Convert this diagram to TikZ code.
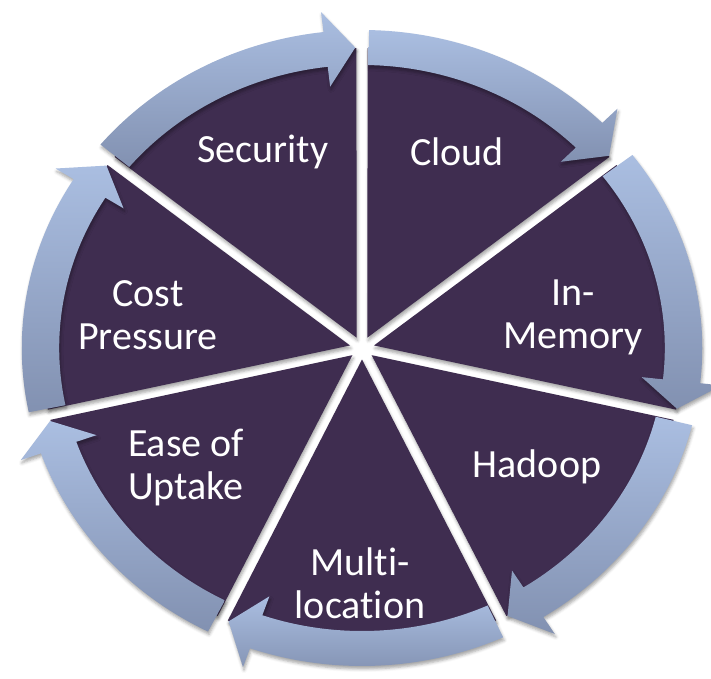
\documentclass[tikz,border=0pt]{standalone}
\usepackage{fontspec}
\setmainfont[Ligatures=NoCommon]{Carlito}
\usetikzlibrary{shadows.blur}
\definecolor{slicepurple}{HTML}{3F2D50}
\definecolor{arrowlight}{HTML}{AABEE1}
\definecolor{arrowdark}{HTML}{8291B1}
\tikzset{
  slice/.style={fill=slicepurple,
    blur shadow={shadow xshift=1pt, shadow yshift=-3pt, shadow blur radius=3pt, shadow opacity=35}},
  cyclearrow/.style={top color=arrowlight, bottom color=arrowdark,
    blur shadow={shadow xshift=1pt, shadow yshift=-3pt, shadow blur radius=3pt, shadow opacity=35}},
  segtext/.style={text=white, align=center, font=\fontsize{40}{43}\selectfont}
}
\begin{document}
\begin{tikzpicture}[x=1pt,y=1pt]
\useasboundingbox (0,0) rectangle (711,678);

% pie slices, then the ring of arrows
\begin{scope}[shift={(362,330)}, xscale=1.07]
  \foreach \k in {0,...,6}{
    \pgfmathsetmacro\ga{90-\k*360/7}
    \pgfmathsetmacro\gb{\ga-360/7}
    \pgfmathsetmacro\gm{\ga-180/7}
    \fill[slice] (\gm:11.5) -- (\ga-1:300) arc[start angle=\ga-1, end angle=\gb+1, radius=300] -- cycle;
  }
  \foreach \k in {0,...,6}{
    \pgfmathsetmacro\ta{90-\k*360/7-1.2}
    \pgfmathsetmacro\hb{90-(\k+1)*360/7+6.5}
    \pgfmathsetmacro\tp{90-(\k+1)*360/7+1.2}
    \shade[cyclearrow] (\ta:318) arc[start angle=\ta, end angle=\hb, radius=318]
      -- (\hb:338) -- (\tp:300.5) -- (\hb:263) -- (\hb:283)
      arc[start angle=\hb, end angle=\ta, radius=283] -- cycle;
  }
\end{scope}

\node[segtext] (security) at (263,526) {Security};
\node[segtext] (cloud) at (457,526) {Cloud};
\node[segtext] (inmemory) at (573,361) {In-\\Memory};
\node[segtext] (hadoop) at (537,211) {Hadoop};
\node[segtext] (multiloc) at (360,95) {Multi-\\location};
\node[segtext] (ease) at (186,210) {Ease of\\Uptake};
\node[segtext] (cost) at (148,363) {Cost\\Pressure};
\end{tikzpicture}
\end{document}
